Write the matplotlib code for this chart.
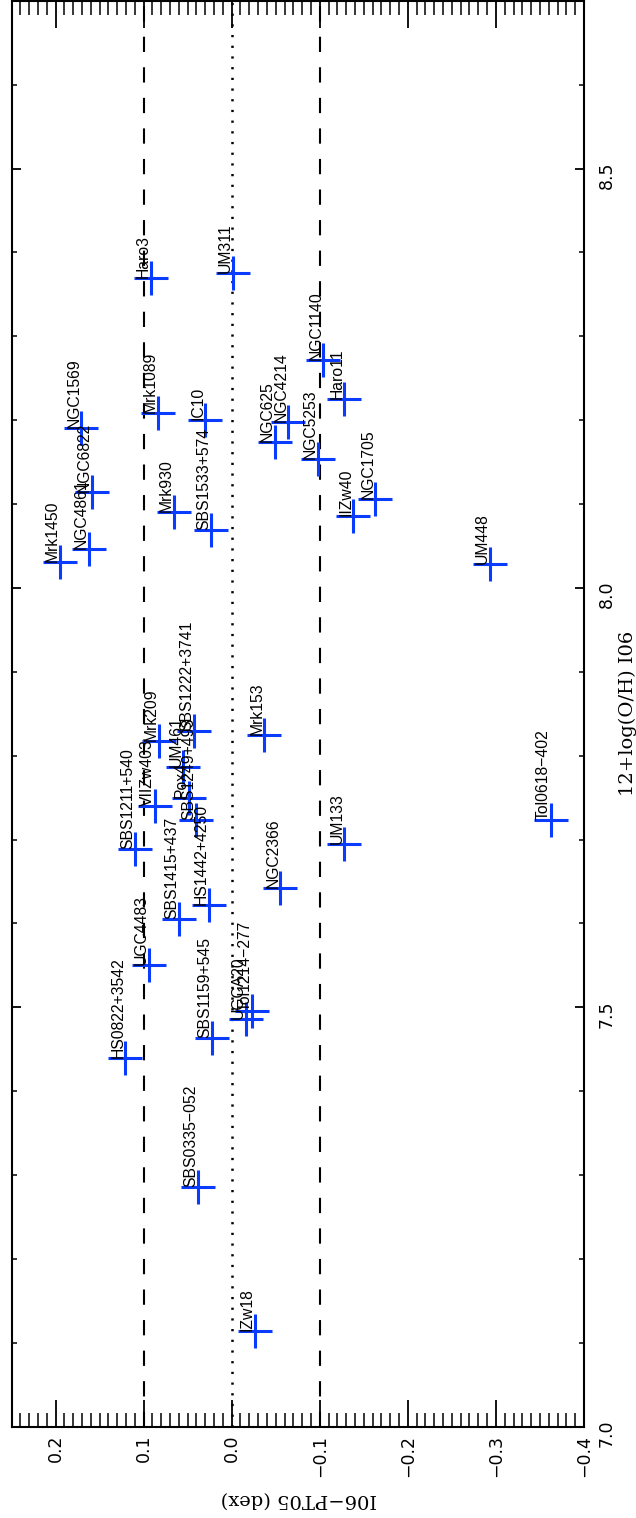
import numpy as np
import matplotlib.pyplot as plt
from matplotlib.ticker import MultipleLocator, FuncFormatter

plt.rcParams['lines.scale_dashes'] = False

# galaxy names, 12+log(O/H) from I06 and the I06 - PT05 difference (dex)
names = ["IZw18", "SBS0335\u2212052", "HS0822+3542", "SBS1159+545", "UGCA20",
         "Tol1214\u2212277", "UGC4483", "SBS1415+437", "HS1442+4250", "NGC2366",
         "SBS1211+540", "UM133", "Tol0618\u2212402", "SBS1249+493", "VIIZw403",
         "Pox4", "UM461", "Mrk209", "SBS1222+3741", "Mrk153",
         "UM448", "Mrk1450", "NGC4861", "SBS1533+574", "IIZw40",
         "Mrk930", "NGC1705", "NGC6822", "NGC5253", "NGC625",
         "NGC4214", "NGC1569", "IC10", "Mrk1089", "Haro11",
         "NGC1140", "Haro3", "UM311"]
oh_i06 = [7.114, 7.286, 7.440, 7.464, 7.486,
          7.496, 7.550, 7.605, 7.622, 7.642,
          7.689, 7.695, 7.723, 7.723, 7.740,
          7.750, 7.787, 7.818, 7.829, 7.825,
          8.029, 8.031, 8.046, 8.069, 8.086,
          8.090, 8.106, 8.114, 8.154, 8.174,
          8.198, 8.191, 8.200, 8.209, 8.225,
          8.272, 8.369, 8.376]
delta_oh = [-0.026, 0.038, 0.121, 0.022, -0.016,
            -0.023, 0.094, 0.060, 0.026, -0.055,
            0.110, -0.128, -0.362, 0.040, 0.087,
            0.049, 0.055, 0.083, 0.043, -0.037,
            -0.293, 0.195, 0.162, 0.023, -0.138,
            0.066, -0.163, 0.159, -0.098, -0.049,
            -0.064, 0.171, 0.030, 0.084, -0.128,
            -0.104, 0.092, -0.001]

x_ticks = np.arange(-0.4, 0.21, 0.1)


def fmt_minus(v, pos):
    return f"{round(v, 3) + 0.0:.1f}".replace("-", "\u2212")


fig = plt.figure(figsize=(6.36, 15.18), dpi=100)
ax = fig.add_axes([0.0181, 0.0601, 0.9001, 0.9394])

# reference lines (landscape plot turned on its side)
ax.axvline(0.1, color="k", lw=1.5, dashes=(11, 11))
ax.axvline(-0.1, color="k", lw=1.5, dashes=(11, 11))
ax.axvline(0.0, color="k", lw=1.8, dashes=(1.6, 6.1))

ax.plot(delta_oh, oh_i06, ls="none", marker="+", ms=24, mew=2.2,
        color="#0a3cff", zorder=3)

for name, x, y in zip(names, delta_oh, oh_i06):
    ax.annotate(name, (x, y), xytext=(-2, 0), textcoords="offset points",
                rotation=90, rotation_mode="anchor", ha="left", va="baseline",
                fontsize=11.3, family="Liberation Sans", zorder=4)

ax.set_xlim(0.25, -0.4)
ax.set_ylim(7.0, 8.7)

ax.xaxis.set_major_locator(MultipleLocator(0.1))
ax.xaxis.set_minor_locator(MultipleLocator(0.01))
ax.yaxis.set_major_locator(MultipleLocator(0.5))
ax.yaxis.set_minor_locator(MultipleLocator(0.1))
ax.xaxis.set_major_formatter(FuncFormatter(fmt_minus))
ax.yaxis.set_major_formatter(FuncFormatter(fmt_minus))

ax.tick_params(axis="x", which="major", direction="in", length=19.4, width=1.3,
               top=True, bottom=True, labelsize=12.5, pad=5.8, labelrotation=90)
ax.tick_params(axis="x", which="minor", direction="in", length=10, width=1.1,
               top=True, bottom=True)
ax.tick_params(axis="y", which="major", direction="in", length=6.5, width=1.3,
               left=True, right=True, labelleft=False, labelright=True,
               labelsize=12.5, pad=10, labelrotation=90)
ax.tick_params(axis="y", which="minor", direction="in", length=3.3, width=1.1,
               left=True, right=True)
for sp in ax.spines.values():
    sp.set_linewidth(1.5)

fig.text(0.470, 0.0125, "I06\u2212PT05 (dex)", rotation=180, ha="center",
         va="center", family="DejaVu Serif", fontsize=14)
fig.text(0.9865, 0.5303, "12+log(O/H) I06", rotation=90, ha="center",
         va="center", family="DejaVu Serif", fontsize=14)

fig.savefig("out.png", dpi=100)
